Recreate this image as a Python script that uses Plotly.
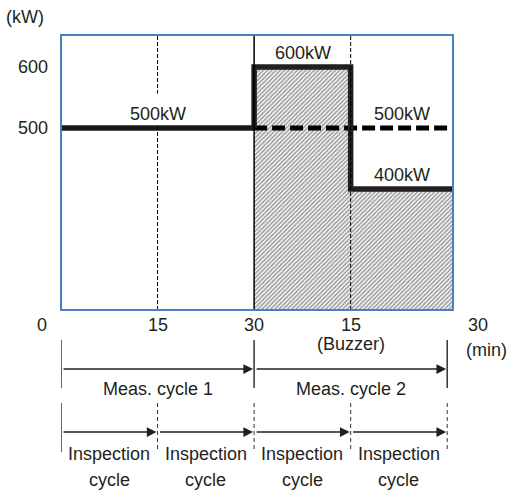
import plotly.graph_objects as go

# ---------------- data ----------------
window_end = 60.9                     # right edge of the time window (min)
base_t = [0, 30]
base_kw = [500, 500]
step_t = [30, 30, 45, 45, window_end]
step_kw = [500, 600, 600, 400, 400]
plan_t = [30, window_end]
plan_kw = [500, 500]

power_labels = ["500kW", "600kW", "500kW", "400kW"]
label_t = [15, 37.6, 53, 53]
label_kw = [500, 600, 500, 400]

y_ticks = [500, 600]
time_ticks = [0, 15, 30, 45, 60]
time_tick_text = ["0", "15", "30", "15", "30"]

meas_bounds = [0, 30, 60]
meas_names = ["Meas. cycle 1", "Meas. cycle 2"]
insp_bounds = [0, 15, 30, 45, 60]

# ---------------- styling helpers ----------------
FONT = "Liberation Sans, Arial, sans-serif"
TXT = "#231f20"
FS = 18
L, R, T, B = 61, 54, 35, 181
W, H = 507, 491
PH = H - T - B


def py(pix_y):
    """pixel y (from top of figure) -> paper y"""
    return (H - B - pix_y) / PH


def label(**kw):
    d = dict(showarrow=False, xanchor="center", yanchor="middle",
             font=dict(family=FONT, size=FS, color=TXT))
    d.update(kw)
    return d


fig = go.Figure()

# hatched area (actual demand after 30 min)
fig.add_trace(go.Scatter(
    x=step_t[1:], y=step_kw[1:], mode="lines", line=dict(width=0),
    fill="tozeroy", fillcolor="white",
    fillpattern=dict(shape="/", size=3, solidity=0.55, fgcolor="#3c3c3c", bgcolor="white"),
    hoverinfo="skip", showlegend=False))

# thin vertical guides
shapes = []
for t in [15, 45]:
    shapes.append(dict(type="line", xref="x", yref="paper", x0=t, x1=t, y0=0, y1=1,
                       line=dict(color="black", width=1, dash="4px,2px"), layer="above"))
shapes.append(dict(type="line", xref="x", yref="paper", x0=30, x1=30, y0=0, y1=1,
                   line=dict(color="black", width=1.5), layer="above"))

# thick lines
fig.add_trace(go.Scatter(x=base_t, y=base_kw, mode="lines",
                         line=dict(color="#1a1a1a", width=5.5), hoverinfo="skip", showlegend=False))
fig.add_trace(go.Scatter(x=plan_t, y=plan_kw, mode="lines",
                         line=dict(color="black", width=5, dash="13px,5px"), hoverinfo="skip", showlegend=False))
fig.add_trace(go.Scatter(x=step_t, y=step_kw, mode="lines",
                         line=dict(color="#231f20", width=5.5, shape="linear"), hoverinfo="skip", showlegend=False))

# plot border
shapes.append(dict(type="rect", xref="paper", yref="paper", x0=0, x1=1, y0=0, y1=1,
                   line=dict(color="#4a7fc1", width=2), layer="above"))

annotations = []
for i, (txt, t, kw) in enumerate(zip(power_labels, label_t, label_kw)):
    if i == 0:
        annotations.append(label(x=t, y=kw, xref="x", yref="y", text=txt,
                                 yanchor="bottom", yshift=3, height=30, width=72, valign="bottom",
                                 bgcolor="white", borderpad=0))
    else:
        annotations.append(label(x=t, y=kw, xref="x", yref="y", text=txt, yshift=14))

# (kW) unit
annotations.append(label(x=(25 - L) / (W - L - R), y=py(17), xref="paper", yref="paper", text="(kW)"))

# time tick labels
shifts = [-19, 0, 0, 0, 31]
for t, txt, s in zip(time_ticks, time_tick_text, shifts):
    annotations.append(label(x=t, y=py(325), xref="x", yref="paper", text=txt, xshift=s))
annotations.append(label(x=45, y=py(344), xref="x", yref="paper", text="(Buzzer)"))
annotations.append(label(x=60, y=py(350), xref="x", yref="paper", text="(min)", xshift=39))

ARROW = dict(xref="x", yref="paper", axref="x", ayref="pixel", ay=0, showarrow=True,
             arrowhead=2, arrowsize=1.3, arrowwidth=1.5, arrowcolor="#231f20", text="",
             standoff=1, startstandoff=1)

# measurement cycles
for t in meas_bounds:
    shapes.append(dict(type="line", xref="x", yref="paper", x0=t, x1=t, y0=py(340), y1=py(388),
                       line=dict(color="#333", width=1.5)))
for a, b_, name in zip(meas_bounds[:-1], meas_bounds[1:], meas_names):
    annotations.append(dict(x=b_, y=py(369), ax=a, **ARROW))
    annotations.append(label(x=(a + b_) / 2, y=py(389), xref="x", yref="paper", text=name))

# inspection cycles
for i, t in enumerate(insp_bounds):
    shapes.append(dict(type="line", xref="x", yref="paper", x0=t, x1=t, y0=py(403), y1=py(452),
                       line=dict(color="#333", width=1.5 if i == 0 else 1,
                                 dash="solid" if i == 0 else "4px,3px")))
for a, b_ in zip(insp_bounds[:-1], insp_bounds[1:]):
    annotations.append(dict(x=b_, y=py(432), ax=a, **ARROW))
    annotations.append(label(x=(a + b_) / 2, y=py(454), xref="x", yref="paper", text="Inspection"))
    annotations.append(label(x=(a + b_) / 2, y=py(480), xref="x", yref="paper", text="cycle"))

fig.update_layout(
    width=W, height=H, margin=dict(l=L, r=R, t=T, b=B, pad=0),
    paper_bgcolor="white", plot_bgcolor="white", showlegend=False,
    shapes=shapes, annotations=annotations,
    xaxis=dict(range=[0, window_end], showgrid=False, zeroline=False, showticklabels=False,
               showline=False, fixedrange=True),
    yaxis=dict(range=[201.6, 652.5], tickvals=y_ticks, showgrid=False, zeroline=False,
               showline=False, ticks="", ticklabelstandoff=12,
               tickfont=dict(family=FONT, size=FS, color=TXT), fixedrange=True),
)

fig.write_html("out.html", config={"displayModeBar": False},
               post_script="document.body.style.margin='0';document.body.style.overflow='hidden';")
